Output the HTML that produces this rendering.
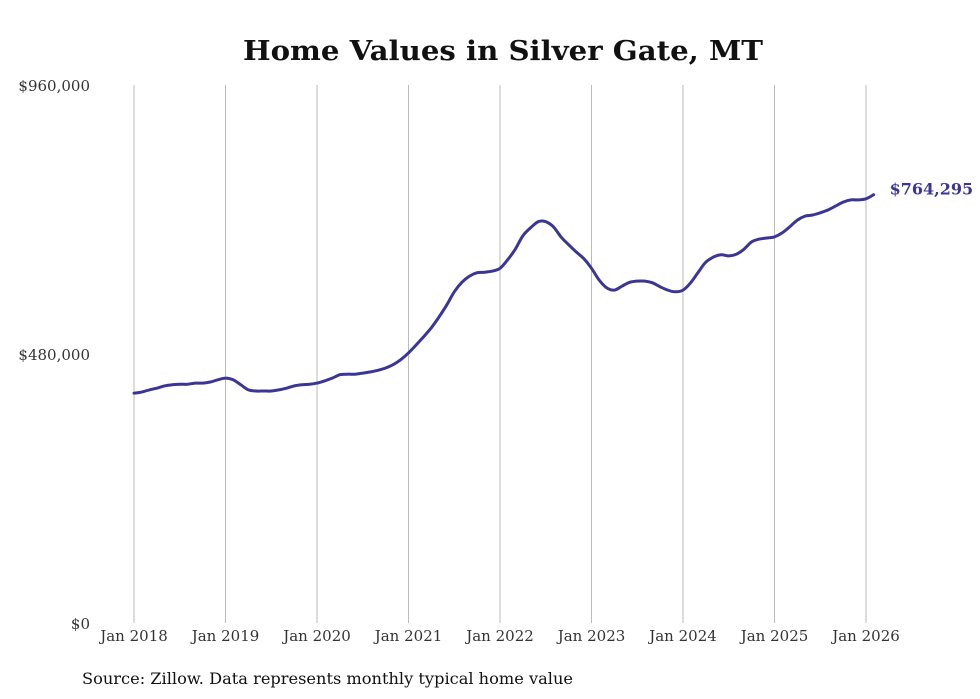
<!DOCTYPE html>
<html><head><meta charset="utf-8"><style>
html,body{margin:0;padding:0;background:#fff;}
svg{display:block;}
text{font-family:"DejaVu Serif","Liberation Serif",serif;}
</style></head><body>
<svg id="chart" width="980" height="699">
<text x="503" y="60" text-anchor="middle" font-size="27" font-weight="bold" fill="#111" textLength="520" lengthAdjust="spacingAndGlyphs">Home Values in Silver Gate, MT</text>
<g id="grid"></g><g id="yaxis"></g><g id="xaxis"></g><g id="series"></g>
<text x="82" y="684" font-size="16" fill="#111" textLength="491" lengthAdjust="spacingAndGlyphs">Source: Zillow. Data represents monthly typical home value</text>
</svg>
<script>
const yTicks=[0,480000,960000];
const yTickLabels=["$0","$480,000","$960,000"];
const xTickYears=[2018,2019,2020,2021,2022,2023,2024,2025,2026];
const xTickLabels=["Jan 2018","Jan 2019","Jan 2020","Jan 2021","Jan 2022","Jan 2023","Jan 2024","Jan 2025","Jan 2026"];
const values2018=[410,412,416,419,423,425,426,426,428,428,430,434];
const values2019=[437,434,425,416,414,414,414,416,419,423,425,426];
const values2020=[428,432,437,443,444,444,446,448,451,455,461,470];
const values2021=[482,496,511,527,546,567,591,608,619,625,626,628];
const values2022=[633,648,667,691,705,716,716,707,689,675,662,650];
const values2023=[633,612,598,594,601,608,610,610,607,600,594,591];
const values2024=[594,607,626,644,653,657,655,658,667,680,685,687];
const values2025=[689,696,707,719,726,728,732,737,744,751,755,755];
const values2026=[757,764.295];
const series=[].concat(values2018,values2019,values2020,values2021,values2022,values2023,values2024,values2025,values2026).map(v=>v*1000);
const lastLabel="$764,295";
const NS="http://www.w3.org/2000/svg";
const x0=134,pxPerMonth=732/96,yBase=623,yTop=85;
const xScale=m=>x0+m*pxPerMonth;
const yScale=v=>yBase-(v/960000)*(yBase-yTop);
function mk(tag,attrs,parent){const e=document.createElementNS(NS,tag);for(const k in attrs)e.setAttribute(k,attrs[k]);parent.appendChild(e);return e;}
const grid=document.getElementById('grid'),ya=document.getElementById('yaxis'),xa=document.getElementById('xaxis'),sg=document.getElementById('series');
xTickYears.forEach((yr,i)=>{
  const x=xScale((yr-2018)*12);
  const l=mk('line',{x1:x,x2:x,y1:yTop,y2:yBase,stroke:'#bbb','stroke-width':1},grid);
  
  
  const t=mk('text',{x:x,y:641,'text-anchor':'middle','font-size':15,fill:'#333'},xa);
  t.textContent=xTickLabels[i];
  
  
});
yTicks.forEach((v,i)=>{
  const t=mk('text',{x:90,y:yScale(v)+6,'text-anchor':'end','font-size':15,fill:'#333'},ya);
  t.textContent=yTickLabels[i];
  
  
});
const pts=series.map((v,i)=>[xScale(i),yScale(v)]);
let d='M'+pts[0][0].toFixed(1)+','+pts[0][1].toFixed(1);
for(let i=0;i<pts.length-1;i++){
  const p0=pts[Math.max(0,i-1)],p1=pts[i],p2=pts[i+1],p3=pts[Math.min(pts.length-1,i+2)];
  const c1=[p1[0]+(p2[0]-p0[0])/6,p1[1]+(p2[1]-p0[1])/6];
  const c2=[p2[0]-(p3[0]-p1[0])/6,p2[1]-(p3[1]-p1[1])/6];
  d+=' C'+c1[0].toFixed(1)+','+c1[1].toFixed(1)+' '+c2[0].toFixed(1)+','+c2[1].toFixed(1)+' '+p2[0].toFixed(1)+','+p2[1].toFixed(1);
}
const p=mk('path',{d:d,fill:'none',stroke:'#3b3596','stroke-width':3,'stroke-linejoin':'round','stroke-linecap':'round'},sg);


const li=series.length-1;
const lt=mk('text',{x:xScale(li)+16,y:yScale(series[li])+0,'font-size':16,'font-weight':'bold',fill:'#3b3596'},sg);
lt.textContent=lastLabel;


</script>
</body></html>
